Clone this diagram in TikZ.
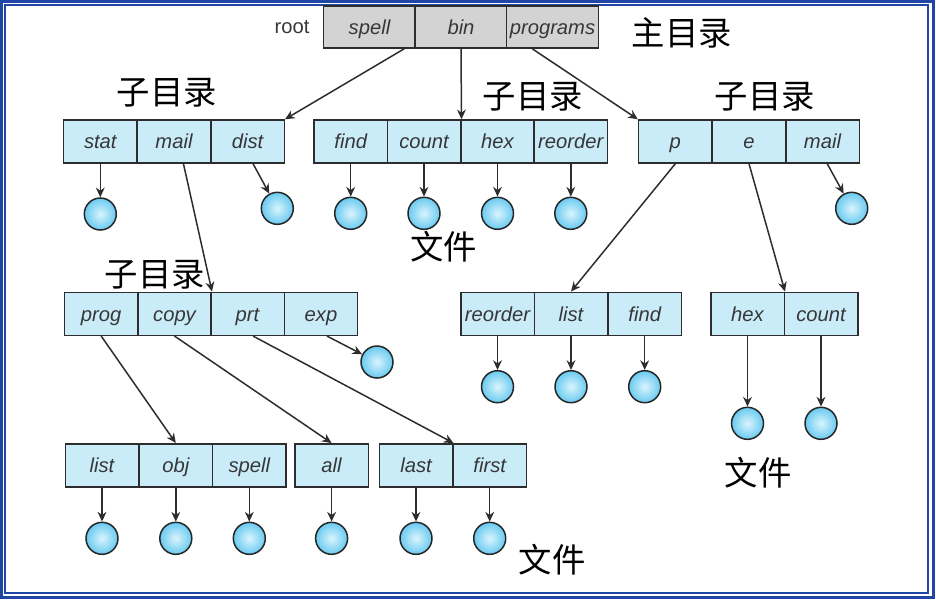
\documentclass[tikz,border=0pt]{standalone}
\usepackage{fontspec}
\setmainfont{Liberation Sans}
\newfontfamily\cjk{Noto Sans CJK SC}
\usetikzlibrary{arrows.meta}

\definecolor{framebl}{RGB}{32,70,165}
\definecolor{cellbl}{RGB}{202,236,249}
\definecolor{rootgr}{RGB}{211,211,211}
\definecolor{edgegr}{RGB}{45,45,45}
\definecolor{txtgr}{RGB}{55,55,55}
\definecolor{ballin}{RGB}{218,244,253}
\definecolor{ballout}{RGB}{105,202,240}

\begin{document}
\begin{tikzpicture}[x=0.02cm,y=-0.02cm,
  cell/.style={draw=edgegr,line width=0.85pt,fill=cellbl,minimum width=1.47cm,minimum height=0.86cm,inner sep=0pt,
    text height=10pt,text depth=1.5pt,font=\fontsize{11.5}{12}\selectfont\itshape,text=txtgr},
  rootcell/.style={cell,fill=rootgr,minimum width=1.84cm,minimum height=0.84cm},
  file/.style={circle,draw=black!85,line width=0.85pt,inner color=ballin,outer color=ballout,minimum size=0.64cm,inner sep=0pt},
  arr/.style={draw=edgegr,line width=0.85pt,-{Stealth[length=5.5pt,width=5pt]}},
  zh/.style={font=\cjk\fontsize{19}{20}\selectfont,inner sep=0pt}]

\useasboundingbox (0,0) rectangle (936,600);
\fill[white] (0,0) rectangle (936,600);

% frame
\draw[framebl,line width=1.7pt] (1.5,1.5) rectangle (933,597);
\draw[framebl,line width=1pt] (5.2,5.2) rectangle (927.7,593.3);

% root directory
\node[font=\fontsize{11.5}{12}\selectfont,text=txtgr] (rootlbl) at (292,27) {root};
\node[rootcell] (spell) at (369.5,27) {spell};
\node[rootcell] (bin) at (461,27) {bin};
\node[rootcell] (programs) at (552.5,27) {programs};
\node[zh] (zhu) at (682,33) {主目录};

% level 2
\node[cell] (stat) at (100.3,141.5) {stat};
\node[cell] (mail) at (174,141.5) {mail};
\node[cell] (dist) at (247.5,141.5) {dist};
\node[cell] (find) at (350.7,141.5) {find};
\node[cell] (count) at (424,141.5) {count};
\node[cell] (hex) at (497.5,141.5) {hex};
\node[cell] (reorder) at (570.8,141.5) {reorder};
\node[cell] (p) at (675.3,141.5) {p};
\node[cell] (e) at (749,141.5) {e};
\node[cell] (pmail) at (822.5,141.5) {mail};
\node[zh] (zia) at (167,93) {子目录};
\node[zh] (zib) at (533,97) {子目录};
\node[zh] (zic) at (765,97) {子目录};

% level 3
\node[cell] (prog) at (101.2,313.8) {prog};
\node[cell] (copy) at (174.5,313.8) {copy};
\node[cell] (prt) at (247.5,313.8) {prt};
\node[cell] (exp) at (321,313.8) {exp};
\node[cell] (preorder) at (497.5,313.8) {reorder};
\node[cell] (plist) at (571,313.8) {list};
\node[cell] (pfind) at (644.7,313.8) {find};
\node[cell] (ehex) at (747.5,313.8) {hex};
\node[cell] (ecount) at (821,313.8) {count};
\node[zh] (zid) at (155,275) {子目录};

% level 4
\node[cell] (glist) at (102,465.3) {list};
\node[cell] (obj) at (175.8,465.3) {obj};
\node[cell] (gspell) at (249.3,465.3) {spell};
\node[cell] (all) at (331.6,465.3) {all};
\node[cell] (last) at (416,465.3) {last};
\node[cell] (first) at (489.7,465.3) {first};

% files
\node[file] (fstat) at (100.3,214) {};
\node[file] (fdist) at (277.3,208.3) {};
\node[file] (ffind) at (350.7,213.3) {};
\node[file] (fcount) at (424,213.3) {};
\node[file] (fhex) at (497.5,213.3) {};
\node[file] (freorder) at (570.8,213.3) {};
\node[file] (fpmail) at (851.7,208.3) {};
\node[file] (fexp) at (377,362) {};
\node[file] (fpreorder) at (497.5,386.7) {};
\node[file] (fplist) at (571,386.7) {};
\node[file] (fpfind) at (644.7,386.7) {};
\node[file] (fehex) at (747.5,423.3) {};
\node[file] (fecount) at (821,423.3) {};
\node[file] (fglist) at (102,538.3) {};
\node[file] (fobj) at (175.8,538.3) {};
\node[file] (fgspell) at (249.3,538.3) {};
\node[file] (fall) at (331.6,538.3) {};
\node[file] (flast) at (416,538.3) {};
\node[file] (ffirst) at (489.7,538.3) {};
\node[zh] (wja) at (443.5,247) {文件};
\node[zh] (wjb) at (758,473) {文件};
\node[zh] (wjc) at (552,560) {文件};

% connectors
\draw[arr] (spell.-32) -- (dist.north east);
\draw[arr] (bin.south) -- (count.north east);
\draw[arr] (programs.-133) -- (p.north west);
\draw[arr] (stat.south) -- (fstat);
\draw[arr] (mail.-67) -- (copy.north east);
\draw[arr] (dist.-76) -- (fdist);
\draw[arr] (find.south) -- (ffind);
\draw[arr] (count.south) -- (fcount);
\draw[arr] (hex.south) -- (fhex);
\draw[arr] (reorder.south) -- (freorder);
\draw[arr] (p.south) -- (plist.north);
\draw[arr] (e.south) -- (ehex.north east);
\draw[arr] (pmail.-78) -- (fpmail);
\draw[arr] (prog.south) -- (obj.north);
\draw[arr] (copy.south) -- (all.north);
\draw[arr] (prt.-76) -- (last.north east);
\draw[arr] (exp.-75) -- (fexp);
\draw[arr] (preorder.south) -- (fpreorder);
\draw[arr] (plist.south) -- (fplist);
\draw[arr] (pfind.south) -- (fpfind);
\draw[arr] (ehex.south) -- (fehex);
\draw[arr] (ecount.south) -- (fecount);
\draw[arr] (glist.south) -- (fglist);
\draw[arr] (obj.south) -- (fobj);
\draw[arr] (gspell.south) -- (fgspell);
\draw[arr] (all.south) -- (fall);
\draw[arr] (last.south) -- (flast);
\draw[arr] (first.south) -- (ffirst);

\end{tikzpicture}
\end{document}
